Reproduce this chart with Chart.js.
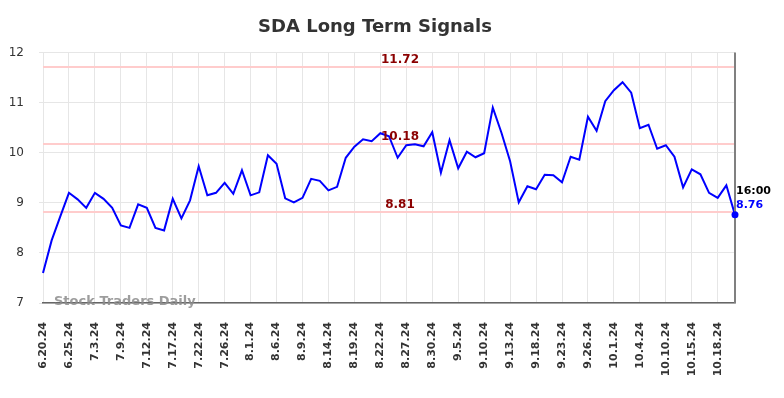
<!DOCTYPE html>
<html>
<head>
<meta charset="utf-8">
<script src="https://cdn.jsdelivr.net/npm/chart.js@4.4.1/dist/chart.umd.min.js"></script>
<style>
  html, body { margin: 0; padding: 0; background: #fff; }
  #wrap { width: 784px; height: 398px; }
</style>
</head>
<body>
<div id="wrap"><canvas id="sdaChart" width="784" height="398"></canvas></div>
<script>
// dates of the points; only every third one is shown on the axis
var dates = [
  '6.20.24', '6.21.24', '6.24.24', '6.25.24', '6.27.24', '7.1.24', '7.3.24', '7.5.24', '7.8.24',
  '7.9.24', '7.10.24', '7.11.24', '7.12.24', '7.15.24', '7.16.24', '7.17.24', '7.18.24', '7.19.24',
  '7.22.24', '7.24.24', '7.25.24', '7.26.24', '7.29.24', '7.31.24', '8.1.24', '8.2.24', '8.5.24',
  '8.6.24', '8.7.24', '8.8.24', '8.9.24', '8.12.24', '8.13.24', '8.14.24', '8.15.24', '8.16.24',
  '8.19.24', '8.20.24', '8.21.24', '8.22.24', '8.23.24', '8.26.24', '8.27.24', '8.28.24', '8.29.24',
  '8.30.24', '9.3.24', '9.4.24', '9.5.24', '9.6.24', '9.9.24', '9.10.24', '9.11.24', '9.12.24',
  '9.13.24', '9.16.24', '9.17.24', '9.18.24', '9.19.24', '9.20.24', '9.23.24', '9.24.24', '9.25.24',
  '9.26.24', '9.27.24', '9.30.24', '10.1.24', '10.2.24', '10.3.24', '10.4.24', '10.7.24', '10.8.24',
  '10.10.24', '10.11.24', '10.14.24', '10.15.24', '10.16.24', '10.17.24', '10.18.24', '10.21.24', '10.22.24'
];

var signal = [
  7.60, 8.25, 8.73, 9.20, 9.07, 8.90, 9.20, 9.08, 8.90,
  8.55, 8.50, 8.97, 8.90, 8.50, 8.45, 9.08, 8.69, 9.05,
  9.73, 9.15, 9.20, 9.40, 9.18, 9.65, 9.15, 9.21, 9.95,
  9.78, 9.09, 9.01, 9.10, 9.48, 9.44, 9.25, 9.32, 9.90,
  10.12, 10.27, 10.23, 10.39, 10.33, 9.90, 10.15, 10.17, 10.13,
  10.41, 9.60, 10.25, 9.69, 10.02, 9.91, 9.99, 10.90, 10.40,
  9.83, 9.01, 9.33, 9.27, 9.56, 9.55, 9.41, 9.92, 9.86,
  10.72, 10.44, 11.03, 11.25, 11.41, 11.20, 10.49, 10.56, 10.08,
  10.15, 9.92, 9.31, 9.67, 9.57, 9.20, 9.10, 9.35, 8.76
];

var levels = [11.72, 10.18, 8.81];
var yMin = 7, yMax = 12;
var lastTime = '16:00';
var chartTitle = 'SDA Long Term Signals';
var watermark = 'Stock Traders Daily';

Chart.defaults.font.family = "'DejaVu Sans', sans-serif";

var lastIdx = signal.length - 1;

// pink signal levels under the line, their labels and the end marker on top
var levelsPlugin = {
  id: 'levels',
  beforeDatasetsDraw: function (chart) {
    var ctx = chart.ctx, area = chart.chartArea, y = chart.scales.y;
    ctx.save();
    ctx.strokeStyle = '#ffcccc';
    ctx.lineWidth = 2;
    levels.forEach(function (v) {
      var py = Math.round(y.getPixelForValue(v));
      ctx.beginPath();
      ctx.moveTo(area.left, py);
      ctx.lineTo(area.right, py);
      ctx.stroke();
    });
    ctx.restore();
  },
  afterDatasetsDraw: function (chart) {
    var ctx = chart.ctx, area = chart.chartArea, y = chart.scales.y;
    ctx.save();
    ctx.font = 'bold 12px "DejaVu Sans"';
    ctx.fillStyle = '#8b0000';
    ctx.textAlign = 'center';
    ctx.textBaseline = 'middle';
    var cx = (area.left + area.right) / 2 + 11;
    levels.forEach(function (v) {
      ctx.fillText(v.toFixed(2), cx, y.getPixelForValue(v) - 7);
    });

    // end marker
    var pt = chart.getDatasetMeta(0).data[lastIdx];
    ctx.strokeStyle = '#808080';
    ctx.lineWidth = 2;
    ctx.beginPath();
    ctx.moveTo(pt.x, area.top);
    ctx.lineTo(pt.x, area.bottom);
    ctx.stroke();

    ctx.fillStyle = '#0000ff';
    ctx.beginPath();
    ctx.arc(pt.x, pt.y, 3.5, 0, Math.PI * 2);
    ctx.fill();

    ctx.font = 'bold 11px "DejaVu Sans"';
    ctx.textAlign = 'left';
    ctx.fillStyle = '#000';
    ctx.fillText(lastTime, pt.x + 1, pt.y - 24);
    ctx.fillStyle = '#0000ff';
    ctx.fillText(signal[lastIdx].toFixed(2), pt.x + 1, pt.y - 10);
    ctx.restore();
  },
  afterDraw: function (chart) {
    var ctx = chart.ctx, area = chart.chartArea;
    ctx.save();
    ctx.font = 'bold 13px "DejaVu Sans"';
    ctx.fillStyle = 'rgba(140,140,140,0.85)';
    ctx.textAlign = 'left';
    ctx.textBaseline = 'middle';
    ctx.fillText(watermark, area.left + 11, area.bottom - 1);
    ctx.restore();
  }
};

new Chart(document.getElementById('sdaChart').getContext('2d'), {
  type: 'line',
  data: {
    labels: dates,
    datasets: [{
      data: signal,
      borderColor: '#0000ff',
      borderWidth: 2,
      pointRadius: 0,
      fill: false,
      tension: 0
    }]
  },
  options: {
    responsive: false,
    animation: false,
    devicePixelRatio: 1,
    layout: { padding: { left: 0, right: 34, top: 0, bottom: 0 } },
    plugins: {
      legend: { display: false },
      tooltip: { enabled: false },
      title: {
        display: true,
        text: chartTitle,
        color: '#333',
        font: { size: 18, weight: 'bold' },
        padding: { top: 17, bottom: 14 }
      }
    },
    scales: {
      x: {
        afterFit: function (s) { s.height = 95; },
        grid: { color: '#e6e6e6', lineWidth: 1, drawTicks: false },
        border: { color: '#666', width: 1.5 },
        ticks: {
          autoSkip: false,
          maxRotation: 90,
          minRotation: 90,
          padding: 19,
          color: '#333',
          font: { size: 11, weight: 'bold' },
          callback: function (val, idx) {
            return idx % 3 === 0 ? this.getLabelForValue(val) : null;
          }
        }
      },
      y: {
        min: yMin,
        max: yMax,
        afterFit: function (s) { s.width = 43; },
        grid: { color: '#e6e6e6', lineWidth: 1, tickLength: 4 },
        border: { display: false },
        ticks: {
          stepSize: 1,
          padding: 15,
          color: '#333',
          font: { size: 12 }
        }
      },
      // empty right-hand strip so the plot ends where the reference does
      yRight: {
        position: 'right',
        min: yMin,
        max: yMax,
        afterFit: function (s) { s.width = 15; },
        grid: { display: false },
        border: { display: false },
        ticks: { display: false }
      }
    }
  },
  plugins: [levelsPlugin]
});
</script>
</body>
</html>
